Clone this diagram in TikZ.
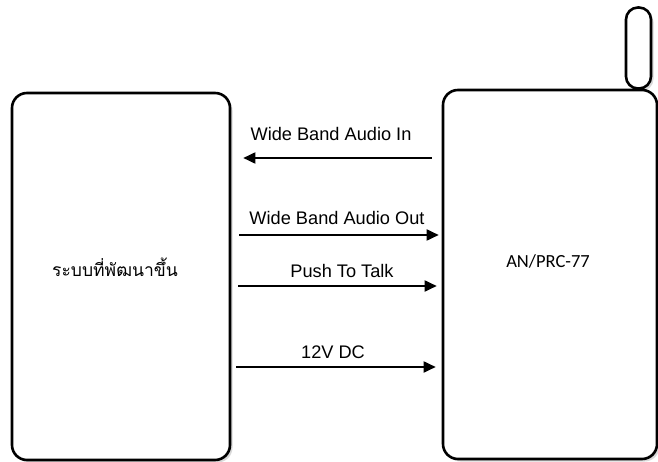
\documentclass[tikz,border=0pt]{standalone}
\usepackage{fontspec}
\setmainfont{Liberation Sans}
\newfontfamily\thaifont[Script=Thai]{Loma}
\newfontfamily\labfont{Carlito}
\usetikzlibrary{arrows.meta,shadows}
\tikzset{
  blockbox/.style={draw=black, line width=2.6pt, fill=white, rounded corners=15pt,
    drop shadow={shadow xshift=2.5pt, shadow yshift=-2.5pt, opacity=0.3}},
  antbox/.style={draw=black, line width=2.6pt, fill=white, rounded corners=12pt,
    drop shadow={shadow xshift=2.5pt, shadow yshift=-2.5pt, opacity=0.3}},
  sig/.style={line width=1.8pt, -{Triangle[length=12pt,width=11pt]}},
  lab/.style={font=\fontsize{18.2}{20}\selectfont, inner sep=0pt}
}
\begin{document}
\begin{tikzpicture}[x=1pt,y=-1pt]
\useasboundingbox (0,0) rectangle (658,462);
% antenna
\node[antbox, minimum width=25pt, minimum height=81pt, inner sep=0pt] (ant) at (638.5,48) {};
% boxes
\node[blockbox, minimum width=218pt, minimum height=367pt, inner sep=0pt] (L) at (121,276.5) {};
\node[blockbox, minimum width=214pt, minimum height=369pt, inner sep=0pt] (R) at (550,274.5) {};
% box texts
\node[font=\thaifont\fontsize{17.5}{19}\selectfont] (Lt) at (115,267) {ระบบที่พัฒนาขึ้น};
\node[font=\labfont\fontsize{18.5}{20}\selectfont] (Rt) at (548,261) {AN/PRC-77};
% connectors
\coordinate (y1) at (0,158);
\coordinate (y2) at (0,235);
\coordinate (y3) at (0,286);
\coordinate (y4) at (0,367);
\draw[sig] ([xshift=-10pt]R.west |- y1) -- ([xshift=12pt]L.east |- y1);
\draw[sig] ([xshift=8pt]L.east |- y2) -- ([xshift=-3pt]R.west |- y2);
\draw[sig] ([xshift=7pt]L.east |- y3) -- ([xshift=-5pt]R.west |- y3);
\draw[sig] ([xshift=5pt]L.east |- y4) -- ([xshift=-6pt]R.west |- y4);
% labels
\node[lab] (l1) at (331,134) {Wide Band Audio In};
\node[lab] (l2) at (337,218) {Wide Band Audio Out};
\node[lab] (l3) at (342,271) {Push To Talk};
\node[lab] (l4) at (333,352) {12V DC};
\end{tikzpicture}
\end{document}
